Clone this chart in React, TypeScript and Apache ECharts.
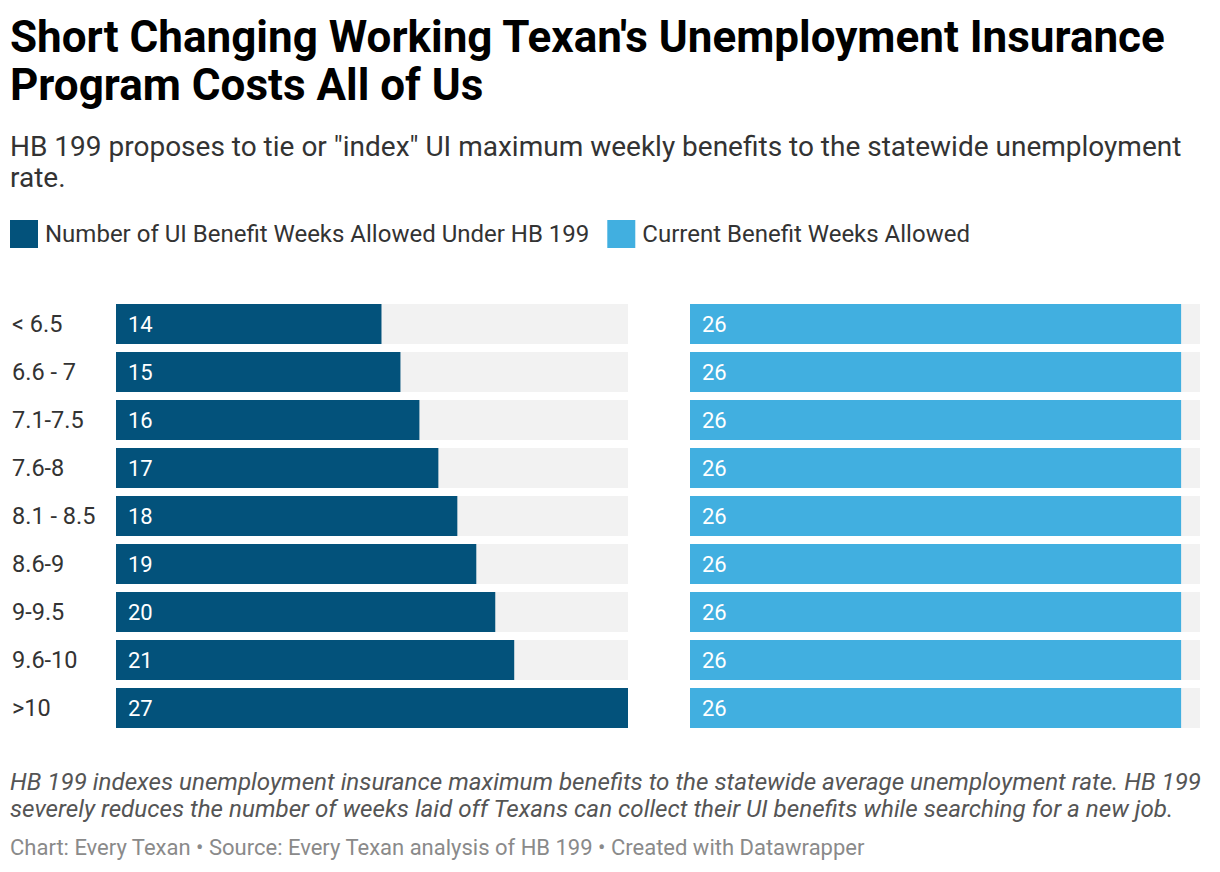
import React, { useEffect, useRef } from "react";
import * as echarts from "echarts";

const categories = ["< 6.5", "6.6 - 7", "7.1-7.5", "7.6-8", "8.1 - 8.5", "8.6-9", "9-9.5", "9.6-10", ">10"];
const hb199Weeks = [14, 15, 16, 17, 18, 19, 20, 21, 27];
const currentWeeks = [26, 26, 26, 26, 26, 26, 26, 26, 26];
const seriesNames = ["Number of UI Benefit Weeks Allowed Under HB 199", "Current Benefit Weeks Allowed"];
const axisMax = 27;

const FONT = "Roboto, 'Noto Sans', sans-serif";

export default function App() {
  const ref = useRef<HTMLDivElement>(null);
  useEffect(() => {
    if (!ref.current) return;
    const chart = echarts.init(ref.current, null, { renderer: "svg" });
    const label = {
      show: true,
      position: "insideLeft",
      distance: 12,
      color: "#ffffff",
      fontSize: 22,
      fontFamily: FONT,
    };
    chart.setOption({
      animation: false,
      textStyle: { fontFamily: FONT },
      legend: {
        left: 5,
        top: 215,
        itemWidth: 28,
        itemHeight: 28,
        itemGap: 18,
        icon: "rect",
        selectedMode: false,
        textStyle: { fontSize: 24, color: "#333333", fontFamily: FONT, padding: [0, 0, 0, 2] },
        data: seriesNames,
      },
      grid: [
        { left: 116, top: 300, width: 512, height: 432 },
        { left: 690, top: 300, width: 510, height: 432 },
      ],
      xAxis: [
        { gridIndex: 0, type: "value", min: 0, max: axisMax, show: false },
        { gridIndex: 1, type: "value", min: 0, max: axisMax, show: false },
      ],
      yAxis: [
        {
          gridIndex: 0,
          type: "category",
          data: categories,
          inverse: true,
          axisLine: { show: false },
          axisTick: { show: false },
          axisLabel: { align: "left", margin: 104, fontSize: 23.5, color: "#333333", fontFamily: FONT },
        },
        {
          gridIndex: 1,
          type: "category",
          data: categories,
          inverse: true,
          axisLine: { show: false },
          axisTick: { show: false },
          axisLabel: { show: false },
        },
      ],
      series: [
        {
          name: seriesNames[0],
          type: "bar",
          xAxisIndex: 0,
          yAxisIndex: 0,
          data: hb199Weeks,
          barWidth: 40,
          itemStyle: { color: "#03527b" },
          showBackground: true,
          backgroundStyle: { color: "#f2f2f2" },
          label,
        },
        {
          name: seriesNames[1],
          type: "bar",
          xAxisIndex: 1,
          yAxisIndex: 1,
          data: currentWeeks,
          barWidth: 40,
          itemStyle: { color: "#41afe0" },
          showBackground: true,
          backgroundStyle: { color: "#f2f2f2" },
          label,
        },
      ],
      graphic: [
        {
          type: "text",
          left: 10,
          top: 13,
          style: {
            text: "Short Changing Working Texan's Unemployment Insurance\nProgram Costs All of Us",
            fontSize: 44,
            fontWeight: "bold",
            lineHeight: 48,
            fill: "#000000",
            fontFamily: FONT,
          },
        },
        {
          type: "text",
          left: 10,
          top: 131,
          style: {
            text: "HB 199 proposes to tie or \"index\" UI maximum weekly benefits to the statewide unemployment\nrate.",
            fontSize: 28,
            lineHeight: 31,
            fill: "#333333",
            fontFamily: FONT,
          },
        },
        {
          type: "text",
          left: 10,
          top: 768,
          style: {
            text: "HB 199 indexes unemployment insurance maximum benefits to the statewide average unemployment rate. HB 199\nseverely reduces the number of weeks laid off Texans can collect their UI benefits while searching for a new job.",
            fontSize: 24.2,
            lineHeight: 27,
            fontStyle: "italic",
            fill: "#555555",
            fontFamily: FONT,
          },
        },
        {
          type: "text",
          left: 10,
          top: 836,
          style: {
            text: "Chart: Every Texan • Source: Every Texan analysis of HB 199 • Created with Datawrapper",
            fontSize: 22,
            fill: "#8a8a8a",
            fontFamily: FONT,
          },
        },
      ],
    });
    return () => chart.dispose();
  }, []);
  return (
    <div
      ref={ref}
      style={{ position: "fixed", left: 0, top: 0, width: 1220, height: 872, background: "#ffffff" }}
    />
  );
}
